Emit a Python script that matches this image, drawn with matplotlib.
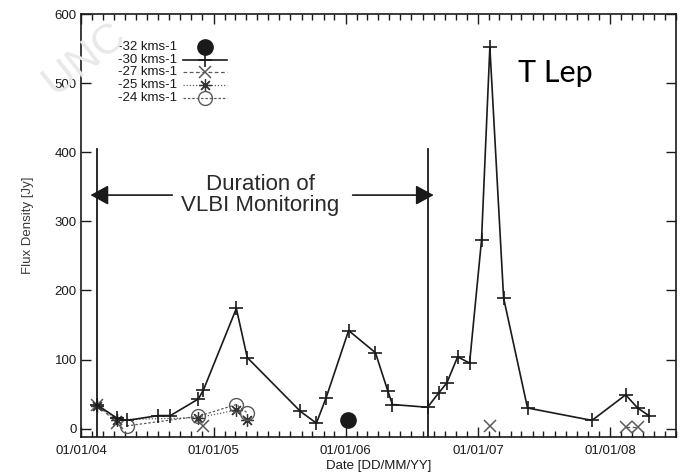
import matplotlib
matplotlib.use("Agg")
import matplotlib.pyplot as plt
import matplotlib.dates as mdates
from matplotlib.lines import Line2D
from datetime import datetime, timedelta

plt.rcParams['font.family'] = ['Liberation Sans', 'DejaVu Sans']

# ---- data -------------------------------------------------------------
# -30 km/s maser component (main light curve)
dates_30 = ['2004-02-13', '2004-04-10', '2004-05-06', '2004-08-02', '2004-09-04',
            '2004-11-20', '2004-12-04', '2005-03-05', '2005-04-04', '2005-08-29',
            '2005-10-12', '2005-11-08', '2006-01-09', '2006-03-24', '2006-04-27',
            '2006-05-10', '2006-08-15', '2006-09-15', '2006-10-07', '2006-11-06',
            '2006-12-09', '2007-01-11', '2007-02-03', '2007-03-13', '2007-05-18',
            '2007-11-12', '2008-02-13', '2008-03-17', '2008-04-17']
flux_30 = [35, 15, 12, 19, 19, 43, 56, 174, 103, 25,
           8, 45, 142, 110, 55, 35, 31, 52, 66, 104,
           95, 273, 552, 189, 30, 12, 49, 30, 19]

# -32 km/s
dates_32 = ['2006-01-06']
flux_32 = [13]

# -27 km/s (index where each new connected run starts)
dates_27 = ['2004-02-13', '2004-04-10', '2004-12-04', '2007-02-03', '2008-02-13', '2008-03-17']
flux_27 = [35, 8, 4, 4, 3, 3]
runs_27 = [0, 2, 3, 4]

# -25 km/s
dates_25 = ['2004-02-13', '2004-04-10', '2004-11-20', '2005-03-05', '2005-04-04']
flux_25 = [33, 13, 16, 27, 13]

# -24 km/s
dates_24 = ['2004-05-06', '2004-11-20', '2005-03-05', '2005-04-04']
flux_24 = [4, 18, 35, 23]

labels = ['-32 kms-1', '-30 kms-1', '-27 kms-1', '-25 kms-1', '-24 kms-1']

# VLBI monitoring window: first and 17th observation of the -30 km/s curve
vlbi_start = dates_30[0]
vlbi_end = dates_30[16]


def to_dt(seq):
    return [datetime.strptime(s, '%Y-%m-%d') for s in seq]


def split_runs(xs, ys, starts):
    bounds = list(starts) + [len(xs)]
    return [(xs[a:b], ys[a:b]) for a, b in zip(bounds[:-1], bounds[1:])]


# ---- figure -----------------------------------------------------------
fig = plt.figure(figsize=(6.85, 4.75), dpi=100)
fig.patch.set_facecolor('white')

# faint watermark lettering behind everything
fig.text(55 / 685, 1 - 96 / 475, 'UNC', rotation=38,
         rotation_mode='anchor', ha='left', va='baseline', fontsize=31,
         color='#e9e9e9', zorder=0)

ax = fig.add_axes([81 / 685, 1 - 437 / 475, 595 / 685, 423 / 475])
ax.set_facecolor('none')

ink = '#1a1a1a'
grey = '#5a5a5a'

styles = {
    '-32': dict(marker='o', ls='none', color=ink, ms=11, mfc=ink, mec=ink),
    '-30': dict(marker='+', ls='-', color=ink, lw=1.2, ms=10, mew=1.2),
    '-27': dict(marker='x', ls=(0, (3, 2)), color=grey, lw=0.9, ms=8, mew=1.1),
    '-25': dict(marker=(8, 2, 0), ls=(0, (1, 1.5)), color=grey, lw=0.9, ms=9, mew=0.9, mec='#333333'),
    '-24': dict(marker='o', ls=(0, (2, 1.5)), color=grey, lw=0.9, ms=10, mew=1.0, mfc='none', mec=grey),
}

ax.plot(to_dt(dates_30), flux_30, zorder=4, **styles['-30'])
ax.plot(to_dt(dates_32), flux_32, zorder=4, **styles['-32'])
for xs, ys in split_runs(to_dt(dates_27), flux_27, runs_27):
    ax.plot(xs, ys, zorder=3, **styles['-27'])
ax.plot(to_dt(dates_25), flux_25, zorder=3, **styles['-25'])
ax.plot(to_dt(dates_24), flux_24, zorder=3, **styles['-24'])

# monitoring window markers
t0, t1 = to_dt([vlbi_start, vlbi_end])
for t in (t0, t1):
    ax.plot([t, t], [-12, 405], color=ink, lw=1.3, zorder=2)

arrow_y = 338
head = dict(arrowstyle='-|>,head_length=0.55,head_width=0.3', color=ink,
            lw=1.2, mutation_scale=20, shrinkA=0, shrinkB=0)
ax.annotate('', xy=(t0 - timedelta(days=17), arrow_y),
            xytext=(datetime(2004, 9, 9), arrow_y), arrowprops=head)
ax.annotate('', xy=(t1 + timedelta(days=17), arrow_y),
            xytext=(datetime(2006, 1, 20), arrow_y), arrowprops=head)
ax.text(datetime(2005, 5, 11), arrow_y, 'Duration of\nVLBI Monitoring',
        ha='center', va='center', multialignment='center', fontsize=16,
        linespacing=1.0, color='#2a2a2a')

ax.text((518 - 81) / 595, (437 - 82) / 423, 'T Lep', transform=ax.transAxes,
        ha='left', va='baseline', fontsize=22, color='black',
        family=['Lato', 'DejaVu Sans'])

# key in the upper-left corner, text first then sample
key_rows = [0.922, 0.892, 0.862, 0.832, 0.802]
for lab, key, yy in zip(labels, ['-32', '-30', '-27', '-25', '-24'], key_rows):
    ax.text(0.161, yy, lab, transform=ax.transAxes, ha='right', va='center',
            fontsize=9.5, color=ink)
    st = dict(styles[key])
    if st.get('ls') != 'none':
        line_kw = {k: v for k, v in st.items() if k in ('ls', 'color', 'lw')}
        ax.add_line(Line2D([0.172, 0.245], [yy, yy], transform=ax.transAxes, **line_kw))
    mk = {k: v for k, v in st.items() if k not in ('ls', 'lw')}
    ax.add_line(Line2D([0.2085], [yy], transform=ax.transAxes, ls='none', **mk))

# axes, ticks, labels
ax.set_xlim(datetime(2004, 1, 1), datetime(2008, 7, 1))
ax.set_ylim(-12, 600)
ax.set_yticks(range(0, 601, 100))
ax.xaxis.set_major_locator(mdates.YearLocator())
ax.xaxis.set_minor_locator(mdates.MonthLocator())
ax.xaxis.set_major_formatter(mdates.DateFormatter('%d/%m/%y'))
ax.tick_params(which='both', direction='in', top=True, right=True,
               color=ink, labelsize=9.5, labelcolor=ink)
ax.tick_params(which='major', length=7, width=1.0)
ax.tick_params(which='minor', length=4, width=1.0)
ax.tick_params(axis='x', which='major', pad=6)
ax.tick_params(axis='y', which='major', pad=3)
for s in ax.spines.values():
    s.set_linewidth(1.2)
    s.set_color(ink)

ax.set_xlabel('Date [DD/MM/YY]', fontsize=9.5, color=ink)
ax.xaxis.set_label_coords(0.5, -0.054)
ax.set_ylabel('Flux Density [Jy]', fontsize=9.5, color='#3a3a3a')
ax.yaxis.set_label_coords(-0.079, 0.5)

fig.savefig('out.png', dpi=100)
